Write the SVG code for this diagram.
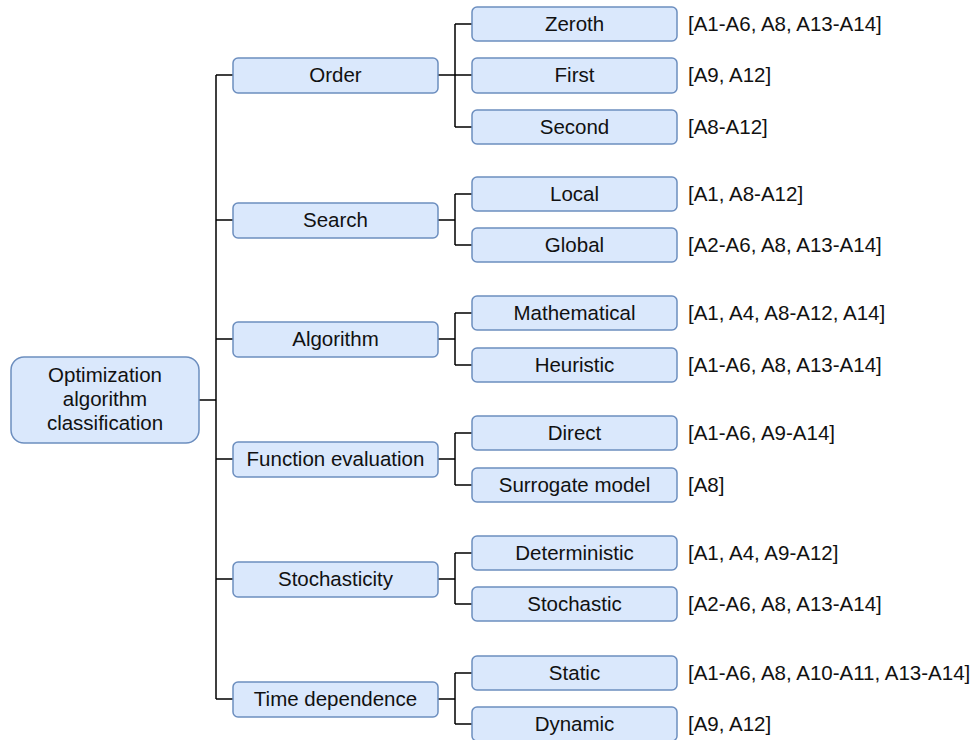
<svg xmlns="http://www.w3.org/2000/svg" width="974" height="740" viewBox="0 0 974 740">
<style>
.n{fill:#dae8fc;stroke:#6c8ebf;stroke-width:1.5}
.t{font-family:"Liberation Sans",Arial,sans-serif;font-size:20.5px;fill:#111;text-anchor:middle}
.l{font-family:"Liberation Sans",Arial,sans-serif;font-size:20.5px;fill:#111;text-anchor:start}
.c{fill:none;stroke:#000;stroke-width:1.5}
</style>
<rect width="974" height="740" fill="#fff"/>
<g id="connectors">
<path class="c" d="M199,400H216M216,75V699M216,75H233M216,220H233M216,339H233M216,459H233M216,579H233M216,699H233"/>
<path class="c" d="M438,75H472M455,24V127M455,24H472M455,127H472"/>
<path class="c" d="M438,220H455M455,194V245M455,194H472M455,245H472"/>
<path class="c" d="M438,339H455M455,313V365M455,313H472M455,365H472"/>
<path class="c" d="M438,459H455M455,433V485M455,433H472M455,485H472"/>
<path class="c" d="M438,579H455M455,553V604M455,553H472M455,604H472"/>
<path class="c" d="M438,699H455M455,673V724M455,673H472M455,724H472"/>
</g>
<g id="root"><rect class="n" x="11" y="357" width="188" height="86" rx="13"/>
<text class="t" x="105" y="382">Optimization</text><text class="t" x="105" y="406">algorithm</text><text class="t" x="105" y="430">classification</text></g>
<g id="order"><rect class="n" x="233" y="58" width="205" height="35" rx="5"/><text class="t" x="335.5" y="82">Order</text></g>
<g id="search"><rect class="n" x="233" y="203" width="205" height="35" rx="5"/><text class="t" x="335.5" y="227">Search</text></g>
<g id="algorithm"><rect class="n" x="233" y="322" width="205" height="35" rx="5"/><text class="t" x="335.5" y="346">Algorithm</text></g>
<g id="function"><rect class="n" x="233" y="442" width="205" height="35" rx="5"/><text class="t" x="335.5" y="466">Function evaluation</text></g>
<g id="stochasticity"><rect class="n" x="233" y="562" width="205" height="35" rx="5"/><text class="t" x="335.5" y="586">Stochasticity</text></g>
<g id="time"><rect class="n" x="233" y="682" width="205" height="35" rx="5"/><text class="t" x="335.5" y="706">Time dependence</text></g>
<g id="zeroth"><rect class="n" x="472" y="7" width="205" height="34" rx="5"/><text class="t" x="574.5" y="31">Zeroth</text><text class="l" x="688" y="31">[A1-A6, A8, A13-A14]</text></g>
<g id="first"><rect class="n" x="472" y="58" width="205" height="35" rx="5"/><text class="t" x="574.5" y="82">First</text><text class="l" x="688" y="82">[A9, A12]</text></g>
<g id="second"><rect class="n" x="472" y="110" width="205" height="34" rx="5"/><text class="t" x="574.5" y="134">Second</text><text class="l" x="688" y="134">[A8-A12]</text></g>
<g id="local"><rect class="n" x="472" y="177" width="205" height="34" rx="5"/><text class="t" x="574.5" y="201">Local</text><text class="l" x="688" y="201">[A1, A8-A12]</text></g>
<g id="global"><rect class="n" x="472" y="228" width="205" height="34" rx="5"/><text class="t" x="574.5" y="252">Global</text><text class="l" x="688" y="252">[A2-A6, A8, A13-A14]</text></g>
<g id="mathematical"><rect class="n" x="472" y="296" width="205" height="34" rx="5"/><text class="t" x="574.5" y="320">Mathematical</text><text class="l" x="688" y="320">[A1, A4, A8-A12, A14]</text></g>
<g id="heuristic"><rect class="n" x="472" y="348" width="205" height="34" rx="5"/><text class="t" x="574.5" y="372">Heuristic</text><text class="l" x="688" y="372">[A1-A6, A8, A13-A14]</text></g>
<g id="direct"><rect class="n" x="472" y="416" width="205" height="34" rx="5"/><text class="t" x="574.5" y="440">Direct</text><text class="l" x="688" y="440">[A1-A6, A9-A14]</text></g>
<g id="surrogate"><rect class="n" x="472" y="468" width="205" height="34" rx="5"/><text class="t" x="574.5" y="492">Surrogate model</text><text class="l" x="688" y="492">[A8]</text></g>
<g id="deterministic"><rect class="n" x="472" y="536" width="205" height="34" rx="5"/><text class="t" x="574.5" y="560">Deterministic</text><text class="l" x="688" y="560">[A1, A4, A9-A12]</text></g>
<g id="stochastic"><rect class="n" x="472" y="587" width="205" height="34" rx="5"/><text class="t" x="574.5" y="611">Stochastic</text><text class="l" x="688" y="611">[A2-A6, A8, A13-A14]</text></g>
<g id="static"><rect class="n" x="472" y="656" width="205" height="34" rx="5"/><text class="t" x="574.5" y="680">Static</text><text class="l" x="688" y="680">[A1-A6, A8, A10-A11, A13-A14]</text></g>
<g id="dynamic"><rect class="n" x="472" y="707" width="205" height="34" rx="5"/><text class="t" x="574.5" y="731">Dynamic</text><text class="l" x="688" y="731">[A9, A12]</text></g>
</svg>
